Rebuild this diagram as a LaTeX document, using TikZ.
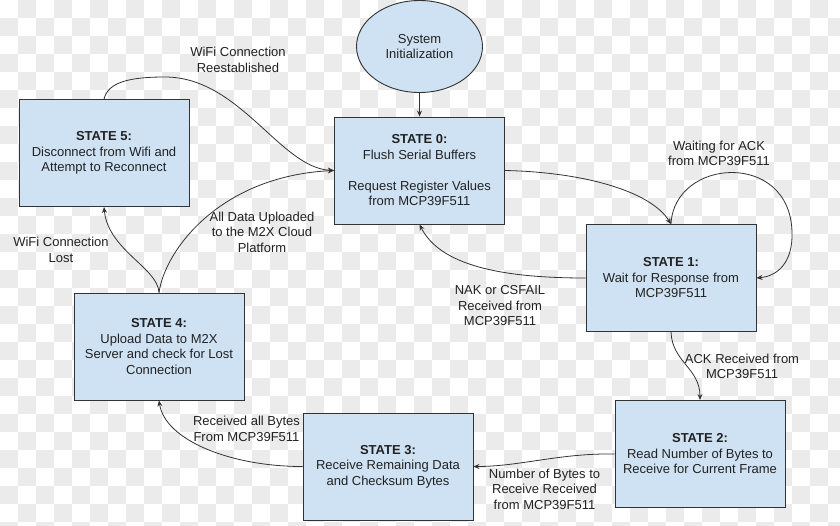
\documentclass[tikz,border=0pt]{standalone}
\usepackage{fontspec}
\setmainfont{Liberation Sans}
\usetikzlibrary{shapes.geometric,arrows.meta}
\definecolor{boxfill}{HTML}{CFE2F3}
\definecolor{edgecol}{HTML}{333333}
\definecolor{txt}{HTML}{222222}
\definecolor{checkgray}{HTML}{EBEBEB}
\begin{document}
\begin{tikzpicture}[x=1pt,y=-1pt,
  statebox/.style={draw=edgecol, line width=0.9pt, fill=boxfill, minimum width=170pt, minimum height=107pt, inner sep=0pt, align=center, text=txt, font=\fontsize{13}{15.5}\selectfont},
  initnode/.style={ellipse, draw=edgecol, line width=0.9pt, fill=boxfill, minimum width=126pt, minimum height=92pt, inner sep=0pt, align=center, text=txt, font=\fontsize{13}{15.5}\selectfont},
  lbl/.style={align=center, text=txt, font=\fontsize{13}{15.5}\selectfont, inner sep=0pt},
  conn/.style={draw=edgecol, line width=0.8pt, -{Stealth[length=6pt,width=5pt,inset=2pt]}},
  checker/.style={fill=checkgray}]
\useasboundingbox (0,0) rectangle (840,525);
\fill[white] (0,0) rectangle (840,525);
\begin{scope}
\clip (0,0) rectangle (840,525);
\foreach \i in {0,...,46}{\foreach \j in {0,...,29}{%
  \pgfmathtruncatemacro{\s}{mod(\i+\j,2)}%
  \ifnum\s=1 \fill[checker] (\i*18,\j*18) rectangle ++(18,18);\fi}}
\end{scope}

% nodes
\node[initnode] (init) at (419.5,46.5) {System\\Initialization};
\node[statebox] (s0) at (419.5,170.5) {\textbf{STATE 0:}\\Flush Serial Buffers\\[15.5pt]Request Register Values\\from MCP39F511};
\node[statebox] (s5) at (104,153) {\textbf{STATE 5:}\\Disconnect from Wifi and\\Attempt to Reconnect};
\node[statebox] (s1) at (671,278) {\textbf{STATE 1:}\\Wait for Response from\\MCP39F511};
\node[statebox] (s4) at (159,346.5) {\textbf{STATE 4:}\\Upload Data to M2X\\Server and check for Lost\\Connection};
\node[statebox] (s3) at (388,466.5) {\textbf{STATE 3:}\\Receive Remaining Data\\and Checksum Bytes};
\node[statebox] (s2) at (700,454) {\textbf{STATE 2:}\\Read Number of Bytes to\\Receive for Current Frame};

% connectors
\draw[conn] (init.south) -- (s0.north);
\coordinate (peak5) at (165,77);
\draw[conn] (s5.north) .. controls (108,82) and (130,77) .. (peak5) .. controls (240,77) and (280,168) .. (s0.west);
\draw[conn] (s4.north) .. controls (165,250) and (220,176) .. (s0.west);
\draw[conn] (s4.north) .. controls (158,268) and (108,250) .. (s5.south);
\draw[conn] (s0.east) .. controls (580,172) and (650,190) .. (s1.north);
\coordinate (loopr) at (792,232);
\draw[conn] (s1.north) .. controls (674,158) and (790,150) .. (loopr) .. controls (793,262) and (778,276) .. (s1.east);
\draw[conn] (s1.west) .. controls (500,278) and (440,265) .. (s0.south);
\draw[conn] (s1.south) .. controls (672,362) and (700,368) .. (s2.north);
\draw[conn] (s2.west) .. controls (560,453) and (520,466.5) .. (s3.east);
\draw[conn] (s3.west) .. controls (230,466.5) and (165,440) .. (s4.south);

% labels
\node[lbl] (l1) at (238,60) {WiFi Connection\\Reestablished};
\node[lbl] (l2) at (262,232) {All Data Uploaded\\to the M2X Cloud\\Platform};
\node[lbl] (l3) at (61,250) {WiFi Connection\\Lost};
\node[lbl] (l4) at (719,153.5) {Waiting for ACK\\from MCP39F511};
\node[lbl] (l5) at (500,306) {NAK or CSFAIL\\Received from\\MCP39F511};
\node[lbl] (l6) at (742,366.5) {ACK Received from\\MCP39F511};
\node[lbl] (l7) at (544.5,489) {Number of Bytes to\\Receive Received\\from MCP39F511};
\node[lbl] (l8) at (246.5,429) {Received all Bytes\\From MCP39F511};
\end{tikzpicture}
\end{document}
